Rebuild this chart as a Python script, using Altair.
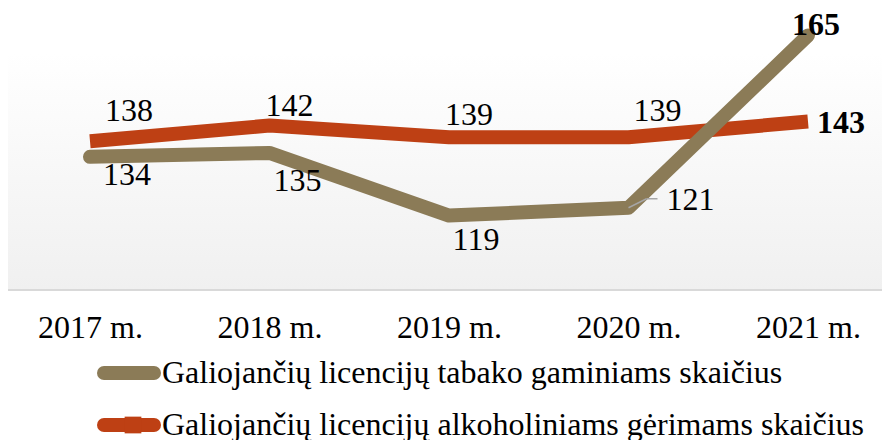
import altair as alt
import pandas as pd

years = ["2017 m.", "2018 m.", "2019 m.", "2020 m.", "2021 m."]
tabako = [134, 135, 119, 121, 165]
alko = [138, 142, 139, 139, 143]
name_tab = "Galiojančių licencijų tabako gaminiams skaičius"
name_alk = "Galiojančių licencijų alkoholiniams gėrimams skaičius"
series_names = [name_tab, name_alk]

rows = []
for i, y in enumerate(years):
    rows.append({"year": y, "series": name_tab, "value": tabako[i]})
    rows.append({"year": y, "series": name_alk, "value": alko[i]})
df = pd.DataFrame(rows)
legend_df = pd.DataFrame({"series": series_names})

GRAY = "#8B7B57"
RED = "#BE4014"
FONT = "Times New Roman, Liberation Serif, DejaVu Serif, serif"

# label placement (style): offsets relative to the data point
label_style = {
    (name_tab, "2017 m."): dict(dx=37, dy=18),
    (name_tab, "2018 m."): dict(dx=28, dy=28),
    (name_tab, "2019 m."): dict(dx=27, dy=24),
    (name_tab, "2020 m."): dict(dx=62, dy=-8),
    (name_tab, "2021 m."): dict(dx=8, dy=-10, bold=True),
    (name_alk, "2017 m."): dict(dx=39, dy=-30),
    (name_alk, "2018 m."): dict(dx=20, dy=-20),
    (name_alk, "2019 m."): dict(dx=20, dy=-22),
    (name_alk, "2020 m."): dict(dx=29, dy=-26),
    (name_alk, "2021 m."): dict(dx=9, dy=1, bold=True, align="left"),
}

x_enc = alt.X(
    "year:N",
    sort=years,
    scale=alt.Scale(type="point", range=[82, 800], padding=0),
    axis=alt.Axis(
        title=None, labelAngle=0, ticks=False, domain=False,
        labelFont=FONT, labelFontSize=32, labelColor="black", labelPadding=22,
    ),
)
y_enc = alt.Y("value:Q", scale=alt.Scale(domain=[100, 172], nice=False, zero=False), axis=None)
color_enc = alt.Color(
    "series:N",
    scale=alt.Scale(domain=series_names, range=[GRAY, RED]),
    legend=None,
)

base = alt.Chart(df)

grad = alt.LinearGradient(
    gradient="linear",
    stops=[
        alt.GradientStop(color="#ffffff", offset=0),
        alt.GradientStop(color="#ffffff", offset=0.16),
        alt.GradientStop(color="#f0f0f0", offset=1),
    ],
    x1=0, x2=0, y1=0, y2=1,
)
bg_df = pd.DataFrame({"a": [0]})
bg = alt.Chart(bg_df).mark_rect(color=grad).encode(
    x=alt.value(0), x2=alt.value("width"), y=alt.value(0), y2=alt.value("height")
)
baseline_rule = alt.Chart(bg_df).mark_rule(color="#d9d9d9", strokeWidth=2).encode(
    x=alt.value(0), x2=alt.value("width"), y=alt.value("height")
)

red_line = base.transform_filter(alt.datum.series == name_alk).mark_line(
    strokeWidth=14, strokeCap="butt", strokeJoin="round"
).encode(x=x_enc, y=y_enc, color=color_enc)

gray_line = base.transform_filter(alt.datum.series == name_tab).mark_line(
    strokeWidth=14, strokeCap="round", strokeJoin="round"
).encode(x=x_enc, y=y_enc, color=color_enc)

pt = base.transform_filter((alt.datum.series == name_tab) & (alt.datum.year == "2020 m."))
leader1 = pt.mark_rule(color="#a6a6a6", strokeWidth=1.5, x2Offset=18, y2Offset=-9).encode(
    x=x_enc, y=y_enc, x2=alt.X2("year:N"), y2=alt.Y2("value:Q")
)
leader2 = pt.mark_rule(color="#a6a6a6", strokeWidth=1.5, xOffset=18, yOffset=-9,
                       x2Offset=29, y2Offset=-9).encode(
    x=x_enc, y=y_enc, x2=alt.X2("year:N"), y2=alt.Y2("value:Q")
)

layers = [bg, baseline_rule, red_line, gray_line, leader1, leader2]
for (s, yr), st in label_style.items():
    layers.append(
        base.transform_filter((alt.datum.series == s) & (alt.datum.year == yr)).mark_text(
            font=FONT, fontSize=32, color="black",
            fontWeight="bold" if st.get("bold") else "normal",
            align=st.get("align", "center"), baseline="middle",
            dx=st["dx"], dy=st["dy"],
        ).encode(x=x_enc, y=y_enc, text=alt.Text("value:Q"))
    )

# legend drawn below the axis (symbol + label per series)
LEG_TOP = 365
LEG_STEP = 52
for i, s in enumerate(series_names):
    ly = LEG_TOP + i * LEG_STEP
    ld = alt.Chart(legend_df).transform_filter(alt.datum.series == s)
    layers.append(
        ld.mark_rule(strokeWidth=14, strokeCap="round").encode(
            x=alt.value(96), x2=alt.value(146), y=alt.value(ly), color=color_enc
        )
    )
    if s == name_alk:
        layers.append(
            ld.mark_point(shape="square", filled=True, opacity=1, size=280).encode(
                x=alt.value(125), y=alt.value(ly), color=color_enc
            )
        )
    layers.append(
        ld.mark_text(font=FONT, fontSize=32, color="black", align="left", baseline="middle").encode(
            x=alt.value(154), y=alt.value(ly), text="series:N"
        )
    )

chart = alt.layer(*layers).properties(
    width=874, height=282,
    autosize=alt.AutoSizeParams(type="none"),
    padding={"left": 0, "top": 0, "right": 0, "bottom": 150},
).configure_view(stroke=None)

chart.save("out.html", embed_options={"renderer": "svg", "actions": False})
